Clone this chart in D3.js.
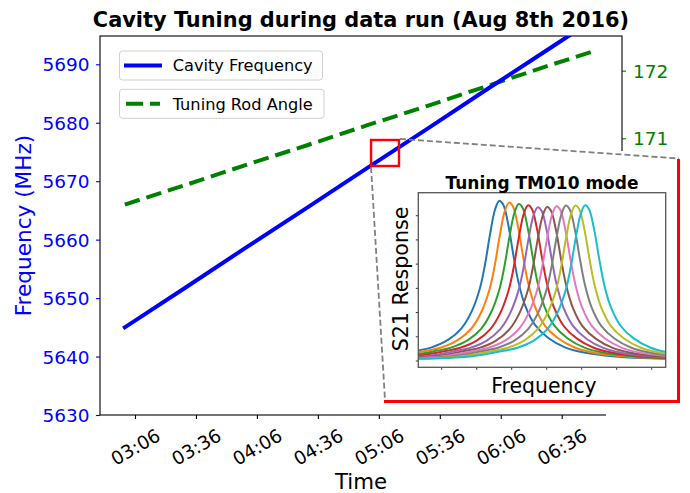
<!DOCTYPE html>
<html><head><meta charset="utf-8">
<script src="https://cdn.jsdelivr.net/npm/d3@7"></script>
<style>
body{margin:0;background:#fff}
svg{display:block}
text{font-family:"DejaVu Sans",sans-serif}
</style></head>
<body><svg id="c" width="690" height="493"></svg>
<script>
// ---------- data ----------
const TIME_POINTS = ["03:01","03:30","04:00","04:30","05:00","05:30","06:00","06:30","06:51"];
const FREQ_MHZ    = [5645.0, 5651.6, 5658.5, 5665.3, 5672.2, 5679.0, 5685.9, 5692.7, 5697.5];
const ROD_ANGLE   = [170.02, 170.30, 170.60, 170.89, 171.19, 171.48, 171.78, 172.08, 172.28];
const X_TICKS     = ["03:06","03:36","04:06","04:36","05:06","05:36","06:06","06:36"];
const LEFT_TICKS  = [5630, 5640, 5650, 5660, 5670, 5680, 5690];
const RIGHT_TICKS = [167, 168, 169, 170, 171, 172];
const X_LIMITS    = ["02:48:47", "07:05:40"];
const LEFT_LIMITS = [5630, 5694.84];
const RIGHT_LIMITS= [166.907, 172.513];
const ZOOM_TIMES  = ["05:02:10", "05:15:55"];  // small red box, time range
const ZOOM_FREQ   = [5672.6, 5677.05];         // small red box, frequency range

// inset (S21 resonance curves), arbitrary units
const INSET_PEAK_X = [1.646, 1.923, 2.200, 2.466, 2.743, 3.009, 3.275, 3.544, 3.818, 4.095];
const INSET_PEAK_Y = [6.62, 6.54, 6.48, 6.43, 6.35, 6.36, 6.39, 6.42, 6.42, 6.43];
const PROFILE_DX = [-4.8, -3.3, -2.314, -1.933, -1.457, -1.076, -0.790, -0.552, -0.410, -0.267, -0.124, 0, 0.114, 0.257, 0.400, 0.543, 0.733, 1.019, 1.400, 1.876, 2.352, 3.305, 4.8];
const PROFILE_V  = [0.09, 0.19, 0.44, 0.565, 0.88, 1.36, 2.05, 3.02, 3.98, 5.22, 6.25, 6.625, 6.46, 5.62, 4.39, 3.28, 2.31, 1.49, 0.95, 0.565, 0.37, 0.19, 0.09];
const INSET_X_TICKS = [0, 1, 2, 3, 4, 5, 6];
const INSET_Y_TICKS = [0, 1, 2, 3, 4, 5, 6];
const INSET_X_LIMITS = [-0.669, 6.40];
const INSET_Y_LIMITS = [-0.26, 6.95];
const TAB10 = ["#1f77b4","#ff7f0e","#2ca02c","#d62728","#9467bd","#8c564b","#e377c2","#7f7f7f","#bcbd22","#17becf"];

// ---------- setup ----------
const svg = d3.select("#c");
const tp = d3.timeParse("%Y-%m-%d %H:%M:%S");
const T = s => tp("2016-08-08 " + (s.length === 5 ? s + ":00" : s));
const BLUE = "#0000ff", GREEN = "#008000";
const L = 100, R = 622, TOP = 36, BOT = 415;

const x = d3.scaleTime().domain(X_LIMITS.map(T)).range([L, R]);
const yL = d3.scaleLinear().domain(LEFT_LIMITS).range([BOT, TOP]);
const yR = d3.scaleLinear().domain(RIGHT_LIMITS).range([BOT, TOP]);

svg.append("defs").append("clipPath").attr("id","mainclip")
  .append("rect").attr("x",L).attr("y",TOP).attr("width",R-L).attr("height",BOT-TOP);

// title
svg.append("text").attr("x",(L+R)/2).attr("y",26.5).attr("text-anchor","middle")
  .attr("font-weight","bold").attr("font-size",20.9).attr("fill","#000")
  .text("Cavity Tuning during data run (Aug 8th 2016)");

// axes
const gl = svg.append("g").attr("transform",`translate(${L},0)`)
  .call(d3.axisLeft(yL).tickValues(LEFT_TICKS).tickSize(4).tickPadding(6.5).tickFormat(d3.format("d")));
gl.select(".domain").remove();
gl.selectAll(".tick line").attr("stroke",BLUE).attr("stroke-width",1.1);
gl.selectAll(".tick text").attr("fill",BLUE).attr("font-size",18.5).attr("font-family","DejaVu Sans").attr("dy","0.36em");

const gr = svg.append("g").attr("transform",`translate(${R},0)`)
  .call(d3.axisRight(yR).tickValues(RIGHT_TICKS).tickSize(4).tickPadding(7).tickFormat(d3.format("d")));
gr.select(".domain").remove();
gr.selectAll(".tick line").attr("stroke",GREEN).attr("stroke-width",1.1);
gr.selectAll(".tick text").attr("fill",GREEN).attr("font-size",18.5).attr("font-family","DejaVu Sans").attr("dy","0.36em");

const gx = svg.append("g").attr("transform",`translate(0,${BOT})`)
  .call(d3.axisBottom(x).tickValues(X_TICKS.map(T)).tickSize(4).tickFormat(d3.timeFormat("%H:%M")));
gx.select(".domain").remove();
gx.selectAll(".tick line").attr("stroke","#000").attr("stroke-width",1.1);
gx.selectAll(".tick text").attr("fill","#000").attr("font-size",18.5).attr("font-family","DejaVu Sans")
  .attr("y",0).attr("dy","0.35em").attr("text-anchor","middle")
  .attr("transform","translate(0,32) rotate(-30)");

// spines
svg.append("rect").attr("x",L).attr("y",TOP).attr("width",R-L).attr("height",BOT-TOP)
  .attr("fill","none").attr("stroke","#000").attr("stroke-width",1.1);

// axis labels
svg.append("text").attr("x",(L+R)/2).attr("y",489).attr("text-anchor","middle")
  .attr("font-size",21.3).attr("fill","#000").text("Time");
svg.append("text").attr("transform",`translate(30.7,${(TOP+BOT)/2}) rotate(-90)`).attr("text-anchor","middle")
  .attr("font-size",21.6).attr("fill",BLUE).text("Frequency (MHz)");

// white areas of the inset picture
svg.append("rect").attr("x",386).attr("y",151).attr("width",296).attr("height",253).attr("fill","#fff");
svg.append("rect").attr("x",606).attr("y",400).attr("width",84).attr("height",26).attr("fill","#fff");

// data lines
const pts = TIME_POINTS.map((t,i)=>({t:T(t), f:FREQ_MHZ[i], a:ROD_ANGLE[i]}));
const lines = svg.append("g").attr("clip-path","url(#mainclip)");
lines.append("path").datum(pts)
  .attr("d", d3.line().x(d=>x(d.t)).y(d=>yR(d.a)))
  .attr("fill","none").attr("stroke",GREEN).attr("stroke-width",4).attr("stroke-dasharray","15.6,7");
lines.append("path").datum(pts)
  .attr("d", d3.line().x(d=>x(d.t)).y(d=>yL(d.f)))
  .attr("fill","none").attr("stroke",BLUE).attr("stroke-width",4).attr("stroke-linecap","square");

// legends
function legend(y0, w, label, color, dash){
  const g = svg.append("g");
  g.append("rect").attr("x",119.5).attr("y",y0).attr("width",w).attr("height",29).attr("rx",3)
    .attr("fill","#fff").attr("fill-opacity",0.8).attr("stroke","#d0d0d0").attr("stroke-width",1);
  const ln = g.append("line").attr("x1",126).attr("x2",160).attr("y1",y0+14.5).attr("y2",y0+14.5)
    .attr("stroke",color).attr("stroke-width",4);
  if(dash) ln.attr("stroke-dasharray","17,7"); else ln.attr("stroke-linecap","square");
  g.append("text").attr("x",172.7).attr("y",y0+20.3).attr("font-size",16.2).attr("fill","#000").text(label);
}
legend(51, 203, "Cavity Frequency", BLUE, false);
legend(89.3, 204.5, "Tuning Rod Angle", GREEN, true);

// zoom box
const zx0 = x(T(ZOOM_TIMES[0])), zx1 = x(T(ZOOM_TIMES[1]));
const zy0 = yL(ZOOM_FREQ[1]), zy1 = yL(ZOOM_FREQ[0]);
svg.append("rect").attr("x",zx0).attr("y",zy0).attr("width",zx1-zx0).attr("height",zy1-zy0)
  .attr("fill","none").attr("stroke","#ff0000").attr("stroke-width",2.4);

// connectors
const conn = [[zx1+1, zy0-1, 679, 158.5],[zx0, zy1+1, 385, 400]];
svg.selectAll(".conn").data(conn).enter().append("line")
  .attr("x1",d=>d[0]).attr("y1",d=>d[1]).attr("x2",d=>d[2]).attr("y2",d=>d[3])
  .attr("stroke","#808080").attr("stroke-width",1.8).attr("stroke-dasharray","6,3");

// red frame of the inset
svg.append("path").attr("d","M678.5,159 L678.5,401.5 L384,401.5")
  .attr("fill","none").attr("stroke","#ff0000").attr("stroke-width",3);

// ---------- inset ----------
const IL = 418.3, IR = 665.7, IT = 192.7, IB = 367.3;
const ix = d3.scaleLinear().domain(INSET_X_LIMITS).range([IL, IR]);
const iy = d3.scaleLinear().domain(INSET_Y_LIMITS).range([IB, IT]);
svg.select("defs").append("clipPath").attr("id","insetclip")
  .append("rect").attr("x",IL).attr("y",IT).attr("width",IR-IL).attr("height",IB-IT);

const ig = svg.append("g");
const curveLine = d3.line().x(d=>ix(d[0])).y(d=>iy(d[1])).curve(d3.curveCatmullRom.alpha(0.5));
const curves = INSET_PEAK_X.map((px,i)=>PROFILE_DX.map((dx,j)=>[px+dx, PROFILE_V[j]*INSET_PEAK_Y[i]/PROFILE_V[11]]));
ig.append("g").attr("clip-path","url(#insetclip)").selectAll("path").data(curves).enter().append("path")
  .attr("d",curveLine).attr("fill","none").attr("stroke",(d,i)=>TAB10[i]).attr("stroke-width",2);

ig.selectAll(".ixt").data(INSET_X_TICKS).enter().append("line")
  .attr("x1",d=>ix(d)).attr("x2",d=>ix(d)).attr("y1",IB).attr("y2",IB+2.5).attr("stroke","#333").attr("stroke-width",1);
ig.selectAll(".iyt").data(INSET_Y_TICKS).enter().append("line")
  .attr("y1",d=>iy(d)).attr("y2",d=>iy(d)).attr("x1",IL).attr("x2",IL-2.5).attr("stroke","#333").attr("stroke-width",1);
ig.append("rect").attr("x",IL).attr("y",IT).attr("width",IR-IL).attr("height",IB-IT)
  .attr("fill","none").attr("stroke","#555").attr("stroke-width",1.3);

ig.append("text").attr("x",(IL+IR)/2).attr("y",188.7).attr("text-anchor","middle")
  .attr("font-weight","bold").attr("font-size",17).attr("fill","#000").text("Tuning TM010 mode");
ig.append("text").attr("transform","translate(408,279) rotate(-90)").attr("text-anchor","middle")
  .attr("font-size",20.6).attr("fill","#000").text("S21 Response");
ig.append("text").attr("x",544).attr("y",393.3).attr("text-anchor","middle")
  .attr("font-size",20.4).attr("fill","#000").text("Frequency");
</script></body></html>
